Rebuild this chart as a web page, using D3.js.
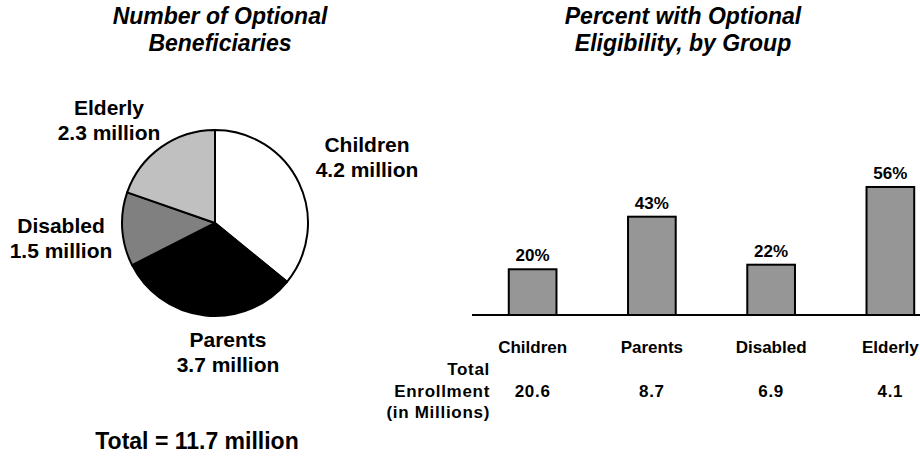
<!DOCTYPE html>
<html>
<head>
<meta charset="utf-8">
<script src="https://cdn.jsdelivr.net/npm/d3@7"></script>
<style>
  html, body { margin: 0; padding: 0; background: #fff; }
  svg { display: block; }
  text { font-family: "Liberation Sans", Arial, sans-serif; font-weight: bold; fill: #000; }
</style>
</head>
<body>
<svg id="chart" width="920" height="457"></svg>
<script>
// Optional beneficiaries by group (millions)
const pieGroups = ["Children", "Parents", "Disabled", "Elderly"];
const pieValues = [4.2, 3.7, 1.5, 2.3];
const pieTotal = 11.7;

// Share of each group's enrollment that is optional (%)
const barGroups = ["Children", "Parents", "Disabled", "Elderly"];
const barPercents = [20, 43, 22, 56];

// Total enrollment per group (millions)
const enrollment = ["20.6", "8.7", "6.9", "4.1"];
const tableRowLabel = ["Total", "Enrollment", "(in Millions)"];

const svg = d3.select("#chart");

/* ---------- Left panel: pie ---------- */
const pieFill = { Children: "#ffffff", Parents: "#000000", Disabled: "#808080", Elderly: "#c0c0c0" };
const cx = 215, cy = 223, radius = 93;

svg.append("text").attr("x", 220).attr("y", 24)
  .attr("text-anchor", "middle").style("font-size", "23px").style("font-style", "italic")
  .text("Number of Optional");
svg.append("text").attr("x", 220).attr("y", 51)
  .attr("text-anchor", "middle").style("font-size", "23px").style("font-style", "italic")
  .text("Beneficiaries");

const pieData = pieGroups.map((g, i) => ({ group: g, value: pieValues[i] }));
const pie = d3.pie().sort(null).value(d => d.value);
const arc = d3.arc().innerRadius(0).outerRadius(radius);

const pieG = svg.append("g").attr("transform", `translate(${cx},${cy})`);
pieG.selectAll("path")
  .data(pie(pieData))
  .join("path")
  .attr("d", arc)
  .attr("fill", d => pieFill[d.data.group])
  .attr("stroke", "#000")
  .attr("stroke-width", 2)
  .attr("stroke-linejoin", "round");

// label anchors, relative to the pie centre
const pieLabelOffset = {
  Children: [152, -71],
  Parents: [13, 124],
  Disabled: [-154, 10],
  Elderly: [-106, -108]
};
const pieLabels = svg.append("g");
pieData.forEach(d => {
  const [dx, dy] = pieLabelOffset[d.group];
  const t = pieLabels.append("text")
    .attr("x", cx + dx).attr("y", cy + dy)
    .attr("text-anchor", "middle").style("font-size", "21px");
  t.append("tspan").attr("x", cx + dx).attr("dy", 0).text(d.group);
  t.append("tspan").attr("x", cx + dx).attr("dy", 25).text(`${d.value} million`);
});

svg.append("text").attr("x", 197).attr("y", 449)
  .attr("text-anchor", "middle").style("font-size", "23px")
  .text(`Total = ${pieTotal} million`);

/* ---------- Right panel: bars ---------- */
svg.append("text").attr("x", 683).attr("y", 24)
  .attr("text-anchor", "middle").style("font-size", "23px").style("font-style", "italic")
  .text("Percent with Optional");
svg.append("text").attr("x", 683).attr("y", 51)
  .attr("text-anchor", "middle").style("font-size", "23px").style("font-style", "italic")
  .text("Eligibility, by Group");

const baseY = 315;
const x = d3.scaleBand().domain(barGroups).range([473, 950])
  .paddingInner(0.6).paddingOuter(0.3);
const y = d3.scaleLinear().domain([0, 100]).range([baseY, baseY - 228.6]);

const barData = barGroups.map((g, i) => ({ group: g, pct: barPercents[i] }));

svg.append("g").selectAll("rect")
  .data(barData)
  .join("rect")
  .attr("x", d => x(d.group))
  .attr("y", d => y(d.pct))
  .attr("width", x.bandwidth())
  .attr("height", d => y(0) - y(d.pct))
  .attr("fill", "#969696")
  .attr("stroke", "#000")
  .attr("stroke-width", 2);

// baseline
svg.append("line")
  .attr("x1", 472).attr("x2", 950)
  .attr("y1", y(0)).attr("y2", y(0))
  .attr("stroke", "#000").attr("stroke-width", 2);

// value labels
svg.append("g").selectAll("text")
  .data(barData)
  .join("text")
  .attr("x", d => x(d.group) + x.bandwidth() / 2)
  .attr("y", d => y(d.pct) - 8)
  .attr("text-anchor", "middle").style("font-size", "17px")
  .text(d => `${d.pct}%`);

// category axis labels
const xAxis = d3.axisBottom(x).tickSize(0).tickPadding(0);
const axisG = svg.append("g").attr("transform", `translate(0,${baseY + 38})`).call(xAxis);
axisG.select(".domain").remove();
axisG.selectAll("text")
  .attr("y", 0).attr("dy", 0)
  .style("font-size", "17px")
  .style("font-family", null)
  .attr("fill", "#000");
axisG.attr("font-family", null).attr("font-size", null);

// enrollment table
const tableG = svg.append("g");
tableRowLabel.forEach((s, i) => {
  tableG.append("text")
    .attr("x", 490).attr("y", 375 + i * 21.5)
    .attr("text-anchor", "end").style("font-size", "17px").style("letter-spacing", "0.7px")
    .text(s);
});
tableG.selectAll("text.val")
  .data(barGroups)
  .join("text")
  .attr("class", "val")
  .attr("x", (g) => x(g) + x.bandwidth() / 2)
  .attr("y", 397)
  .attr("text-anchor", "middle").style("font-size", "17px").style("letter-spacing", "0.7px")
  .text((g, i) => enrollment[i]);
</script>
</body>
</html>
